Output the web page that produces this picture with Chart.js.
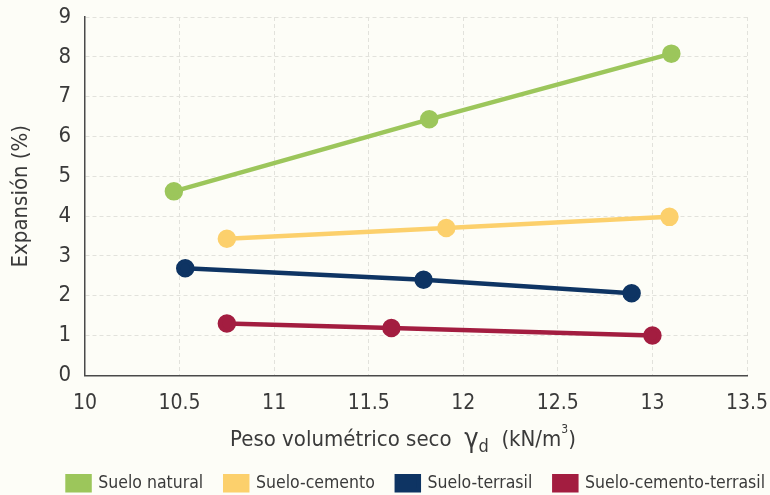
<!DOCTYPE html>
<html>
<head>
<meta charset="utf-8">
<script src="https://cdn.jsdelivr.net/npm/chart.js@4/dist/chart.umd.min.js"></script>
<style>
  html, body { margin: 0; padding: 0; background: #fdfdf7; }
  #wrap { width: 770px; height: 495px; }
</style>
</head>
<body>
<div id="wrap"><canvas id="chart"></canvas></div>
<script>
// datos
const seriesNames = ['Suelo natural', 'Suelo-cemento', 'Suelo-terrasil', 'Suelo-cemento-terrasil'];
const seriesColors = ['#9cc65b', '#fcd06c', '#0e3463', '#a31d40'];

const natX = [10.47, 11.82, 13.10];
const natY = [4.62, 6.43, 8.08];
const cemX = [10.75, 11.91, 13.09];
const cemY = [3.43, 3.70, 3.98];
const terX = [10.53, 11.79, 12.89];
const terY = [2.69, 2.40, 2.06];
const ctX = [10.75, 11.62, 13.00];
const ctY = [1.30, 1.19, 1.00];

const xTicks = [10, 10.5, 11, 11.5, 12, 12.5, 13, 13.5];
const yTicks = [0, 1, 2, 3, 4, 5, 6, 7, 8, 9];

const FONT = "'DejaVu Sans Condensed', 'Liberation Sans Narrow', 'Roboto Condensed', sans-serif";
const TEXT = '#3a3a3a';

const toPoints = (xs, ys) => xs.map((x, i) => ({ x: x, y: ys[i] }));
const allX = [natX, cemX, terX, ctX];
const allY = [natY, cemY, terY, ctY];

const datasets = seriesNames.map((name, i) => ({
    label: name,
    data: toPoints(allX[i], allY[i]),
    borderColor: seriesColors[i],
    backgroundColor: seriesColors[i],
    pointBackgroundColor: seriesColors[i],
    pointBorderColor: seriesColors[i],
    borderWidth: 4.5,
    pointRadius: 7,
    pointHoverRadius: 7,
    tension: 0
}));

// titulo del eje X con subindice y superindice
const xTitlePlugin = {
    id: 'xTitle',
    afterDraw(chart) {
        const ctx = chart.ctx;
        const area = chart.chartArea;
        const cx = (area.left + area.right) / 2 - 13;
        const y = 440;
        const parts = [
            { t: 'Peso volumétrico seco  ', size: 22, dy: 0 },
            { t: 'γ', size: 27, dy: 0 },
            { t: 'd', size: 18, dy: 7 },
            { t: '  (kN/m', size: 22, dy: 0 },
            { t: '3', size: 12, dy: -10 },
            { t: ')', size: 22, dy: 0 }
        ];
        ctx.save();
        ctx.fillStyle = TEXT;
        ctx.textBaseline = 'middle';
        ctx.textAlign = 'left';
        let total = 0;
        parts.forEach(p => {
            ctx.font = p.size + 'px ' + FONT;
            p.w = ctx.measureText(p.t).width;
            total += p.w;
        });
        let x = cx - total / 2;
        parts.forEach(p => {
            ctx.font = p.size + 'px ' + FONT;
            ctx.fillText(p.t, x, y + p.dy);
            x += p.w;
        });
        ctx.restore();
    }
};

new Chart(document.getElementById('chart'), {
    type: 'line',
    data: { datasets: datasets },
    plugins: [xTitlePlugin],
    options: {
        responsive: true,
        maintainAspectRatio: false,
        animation: false,
        layout: { padding: { top: 0, right: -7, left: 4, bottom: -7 } },
        plugins: {
            tooltip: { enabled: false },
            legend: {
                position: 'bottom',
                align: 'end',
                labels: {
                    boxWidth: 22,
                    boxHeight: 14,
                    padding: 12,
                    color: TEXT,
                    font: { family: FONT, size: 17.5 },
                    generateLabels: chart => {
                        const items = Chart.defaults.plugins.legend.labels.generateLabels(chart);
                        return items.map((it, i) => {
                            if (i < items.length - 1) it.text = it.text + '  ';
                            return it;
                        });
                    }
                }
            }
        },
        scales: {
            x: {
                type: 'linear',
                min: 10,
                max: 13.5,
                afterBuildTicks: axis => { axis.ticks = xTicks.map(v => ({ value: v })); },
                afterFit: axis => { axis.paddingRight = 23; },
                ticks: {
                    color: TEXT,
                    padding: 16,
                    font: { family: FONT, size: 21 },
                    callback: v => String(v)
                },
                grid: {
                    color: '#e2e2dc',
                    drawTicks: false
                },
                border: { display: true, color: '#4a4a4a', width: 1.5, dash: [4, 3] },
                title: {
                    display: true,
                    text: 'Peso volumétrico seco γd (kN/m³)',
                    color: 'rgba(0,0,0,0)',
                    font: { family: FONT, size: 20 },
                    padding: { top: 0, bottom: 6 }
                }
            },
            y: {
                min: 0,
                max: 9,
                afterBuildTicks: axis => { axis.ticks = yTicks.map(v => ({ value: v })); },
                afterFit: axis => { axis.paddingTop = 17; },
                ticks: {
                    color: TEXT,
                    padding: 14,
                    font: { family: FONT, size: 22 }
                },
                grid: {
                    color: '#e2e2dc',
                    drawTicks: false
                },
                border: { display: true, color: '#4a4a4a', width: 1.5, dash: [4, 3] },
                title: {
                    display: true,
                    text: 'Expansión (%)',
                    color: TEXT,
                    font: { family: FONT, size: 22 },
                    padding: { bottom: 10 }
                }
            }
        }
    }
});
</script>
</body>
</html>
